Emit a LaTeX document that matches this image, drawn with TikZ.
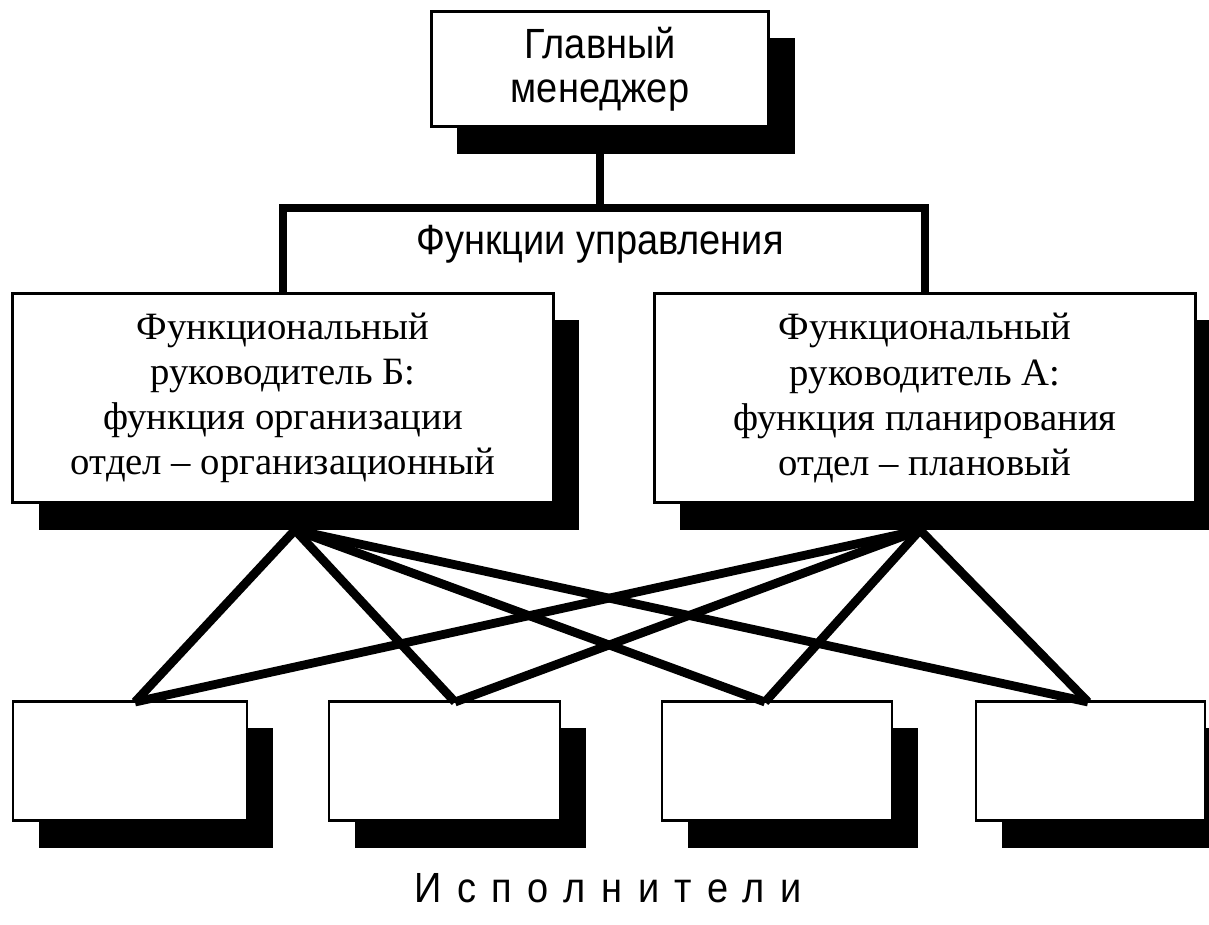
\documentclass[tikz,border=0pt]{standalone}
\usepackage{fontspec}
\setmainfont{Liberation Serif}
\newfontfamily\headfont[FakeStretch=0.9]{Liberation Sans}
\usetikzlibrary{positioning}
\usetikzlibrary{shadows}

\begin{document}
\begin{tikzpicture}[x=0.01cm, y=-0.01cm,
	box/.style={draw, fill=white, line width=0.8pt, inner sep=0pt, align=center,
		drop shadow={shadow xshift=0.26cm, shadow yshift=-0.27cm, fill=black, opacity=1}},
	exec/.style={box, minimum height=1.19cm},
	conn/.style={line width=2.5pt}]
	\useasboundingbox (0,0) rectangle (1209,924);
	\node [box, minimum width=3.37cm, minimum height=1.15cm, font=\headfont\fontsize{12}{12.5}\selectfont] (gm) at (600,69) {Главный\\менеджер};
	\node [box, minimum width=5.40cm, minimum height=2.09cm, font=\fontsize{11}{12.8}\selectfont] (fb) at (283,398) {Функциональный\\руководитель Б:\\функция организации\\отдел -- организационный};
	\node [box, minimum width=5.41cm, minimum height=2.09cm, font=\fontsize{11}{12.8}\selectfont] (fa) at (925,398) {Функциональный\\руководитель А:\\функция планирования\\отдел -- плановый};
	\node [exec, minimum width=2.34cm] (ex1) at (130,761) {};
	\node [exec, minimum width=2.31cm, right=0.79cm of ex1] (ex2) {};
	\node [exec, minimum width=2.30cm, right=0.99cm of ex2] (ex3) {};
	\node [exec, minimum width=2.29cm, right=0.81cm of ex3] (ex4) {};
	% bus under the manager
	\draw [conn] (gm.south) -- ++(0,80) coordinate (bus);
	\draw [conn] (fb.north) |- (bus) -| (fa.north);
	\node [below=0.17cm of bus, inner sep=0pt, font=\headfont\fontsize{12}{12.5}\selectfont] (fu) {Функции управления};
	% links to executors
	\coordinate (sb) at (295,530);
	\coordinate (sa) at (920,530);
	\coordinate (t1) at (135,702);
	\coordinate (t2) at (455,702);
	\coordinate (t3) at (765,702);
	\coordinate (t4) at (1088,702);
	\foreach \t in {t1,t2,t3,t4} {
		\draw [conn] (sb) -- (\t);
		\draw [conn] (sa) -- (\t);
	}
	\node [font=\headfont\fontsize{12}{12.5}\selectfont\addfontfeature{LetterSpace=37}] (isp) at (608,888) {Исполнители};
\end{tikzpicture}
\end{document}
